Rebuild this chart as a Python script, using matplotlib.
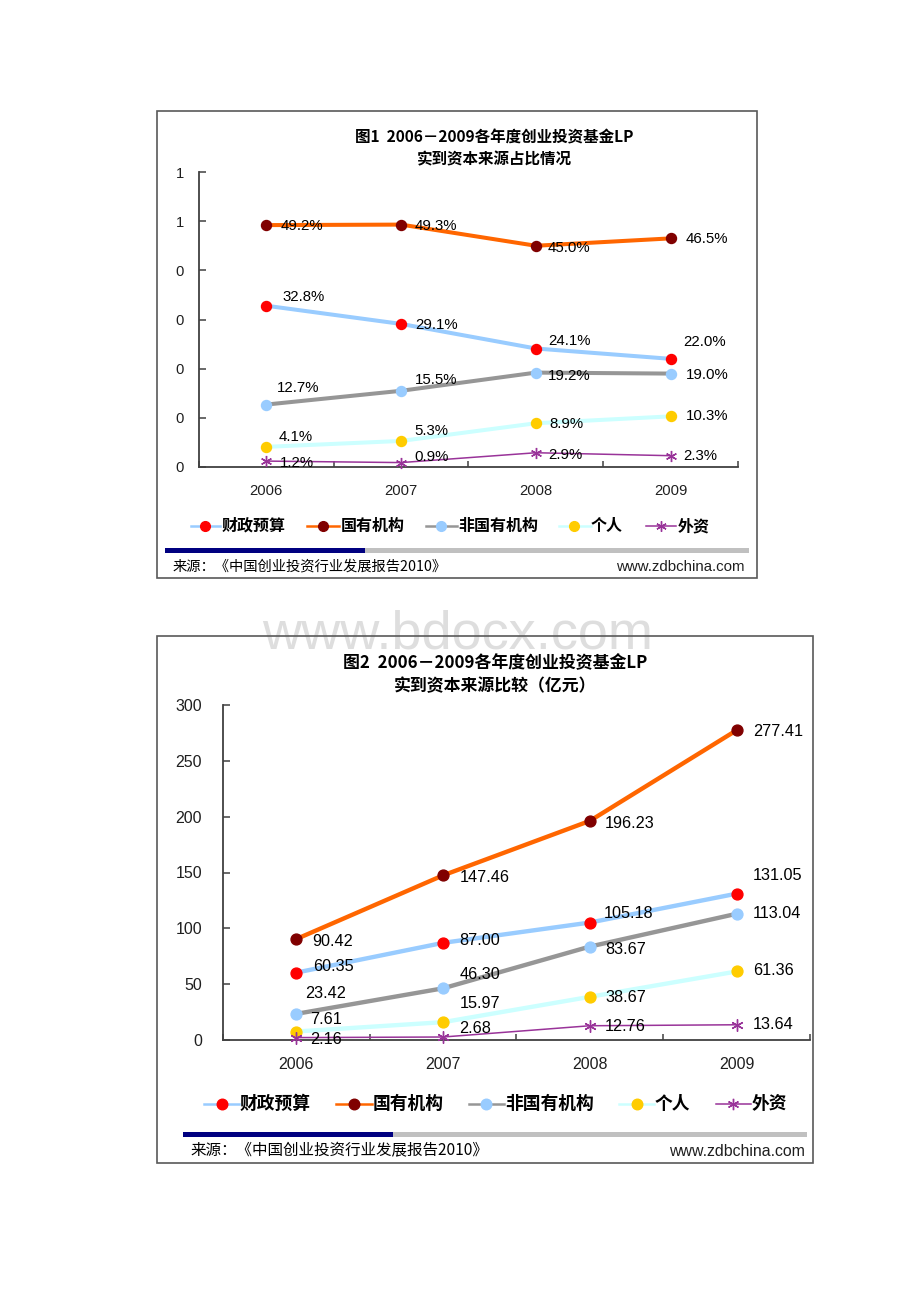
import numpy as np
import matplotlib
matplotlib.use('Agg')
import matplotlib.pyplot as plt
from matplotlib.lines import Line2D
from matplotlib.patches import Rectangle

# ---------------- data ----------------
years = ['2006', '2007', '2008', '2009']
series_names = ['财政预算', '国有机构', '非国有机构', '个人', '外资']

# Figure 1: share of paid-in capital (%)
share_fiscal = [32.8, 29.1, 24.1, 22.0]
share_state = [49.2, 49.3, 45.0, 46.5]
share_nonstate = [12.7, 15.5, 19.2, 19.0]
share_individual = [4.1, 5.3, 8.9, 10.3]
share_foreign = [1.2, 0.9, 2.9, 2.3]
share_ticks = [0.0, 0.1, 0.2, 0.3, 0.4, 0.5, 0.6]

# Figure 2: paid-in capital (100 million yuan)
amt_fiscal = [60.35, 87.00, 105.18, 131.05]
amt_state = [90.42, 147.46, 196.23, 277.41]
amt_nonstate = [23.42, 46.30, 83.67, 113.04]
amt_individual = [7.61, 15.97, 38.67, 61.36]
amt_foreign = [2.16, 2.68, 12.76, 13.64]
amt_ticks = [0, 50, 100, 150, 200, 250, 300]

title1 = ['图1  2006－2009各年度创业投资基金LP', '实到资本来源占比情况']
title2 = ['图2  2006－2009各年度创业投资基金LP', '实到资本来源比较（亿元）']
source_text = '来源：《中国创业投资行业发展报告2010》'
site_text = 'www.zdbchina.com'
watermark = 'www.bdocx.com'

# ---------------- styles / layout ----------------
W, H = 920, 1302
CJK = ['Noto Sans CJK SC', 'DejaVu Sans']
LAT = ['Liberation Sans', 'DejaVu Sans']

STYLES = [
    dict(line='#99CCFF', face='#FF0000', marker='o', thick=True),
    dict(line='#FF6600', face='#800000', marker='o', thick=True),
    dict(line='#969696', face='#99CCFF', marker='o', thick=True),
    dict(line='#CCFFFF', face='#FFCC00', marker='o', thick=True),
    dict(line='#993399', face='#993399', marker=(6, 2, 0), thick=False),
]

# label offsets (px right, px down) from each point
OFF1 = [
    [(16, -9), (14, 1), (12, -8), (13, -17)],
    [(14, 1), (14, 1), (12, 2), (15, 1)],
    [(11, -17), (14, -11), (12, 3), (15, 1)],
    [(12, -10), (13, -10), (14, 1), (15, 0)],
    [(14, 2), (13, -6), (12, 2), (13, 0)],
]
OFF2 = [
    [(15, -6), (15, -2), (13, -8), (15, -17)],
    [(15, 2), (15, 2), (14, 2), (15, 1)],
    [(8, -19), (15, -13), (14, 3), (15, 0)],
    [(13, -11), (15, -17), (14, 1), (15, -1)],
    [(13, 2), (15, -8), (14, 1), (15, 0)],
]

fig = plt.figure(figsize=(W / 100, H / 100), dpi=100)
fig.patch.set_facecolor('white')


def fx(x):
    return x / W


def fy(y):
    return 1 - y / H


def rect(l, t, r, b):
    return [l / W, 1 - b / H, (r - l) / W, (b - t) / H]


def round_half_up(v):
    return int(np.floor(v + 0.5 + 1e-9))


def draw_chart(cfg):
    s = cfg['scale']
    # frame box
    l, t, r, b = cfg['box']
    fig.add_artist(Rectangle((fx(l), fy(b)), (r - l) / W, (b - t) / H,
                             transform=fig.transFigure, fill=False,
                             edgecolor='#595959', linewidth=1.2))
    # titles
    for txt, yy in zip(cfg['title'], cfg['title_y']):
        fig.text(fx(cfg['title_x']), fy(yy), txt, ha='center', va='center',
                 family=CJK, weight='bold', fontsize=11.2 * s, color='#000000')

    ax = fig.add_axes(rect(*cfg['axes']))
    ax.set_facecolor('none')
    x = np.arange(len(years))
    for i, vals in enumerate(cfg['series']):
        st = STYLES[i]
        v = np.array(vals, dtype=float) * cfg['factor']
        lw = (2.9 * s) if st['thick'] else 1.1
        ms = (7.2 * s) if st['marker'] == 'o' else 8 * s
        ax.plot(x, v, color=st['line'], lw=lw, solid_capstyle='butt',
                marker=st['marker'], markersize=ms,
                markerfacecolor=st['face'], markeredgecolor=st['face'],
                markeredgewidth=1.0, clip_on=False, zorder=3 + i * 0.1)
        for j in range(len(years)):
            dx, dy = cfg['offsets'][i][j]
            ax.annotate(cfg['fmt'](vals[j]), (x[j], v[j]),
                        xytext=(dx * s, -dy * s), textcoords='offset pixels',
                        ha='left', va='center', family=LAT,
                        fontsize=10.8 * s, color='#000000', zorder=10,
                        annotation_clip=False)

    ax.set_xlim(-0.5, len(years) - 0.5)
    ax.set_ylim(cfg['ticks'][0], cfg['ticks'][-1])
    for sp in ['top', 'right']:
        ax.spines[sp].set_visible(False)
    for sp in ['left', 'bottom']:
        ax.spines[sp].set_color('#404040')
        ax.spines[sp].set_linewidth(1.3)
    ax.set_xticks(x)
    ax.set_xticklabels(years, family=LAT, fontsize=10.6 * s, color='#1F1F1F')
    ax.set_xticks(np.arange(-0.5, len(years)), minor=True)
    ax.tick_params(axis='x', which='major', length=0, pad=cfg['xpad'])
    ax.tick_params(axis='x', which='minor', length=4, width=1.1,
                   direction='in', color='#404040')
    ax.set_yticks(cfg['ticks'])
    ax.set_yticklabels(cfg['ytl'], family=LAT, fontsize=10.6 * s, color='#1F1F1F')
    ax.tick_params(axis='y', length=5, width=1.1, direction='in',
                   color='#404040', pad=cfg['ypad'])

    # legend (manual)
    ly = fy(cfg['leg_y'])
    for i, name in enumerate(series_names):
        st = STYLES[i]
        x0, x1, xm, xt = cfg['legend'][i]
        fig.add_artist(Line2D([fx(x0), fx(x1)], [ly, ly], transform=fig.transFigure,
                              color=st['line'], lw=1.8 if st['thick'] else 1.1))
        fig.add_artist(Line2D([fx(xm)], [ly], transform=fig.transFigure,
                              marker=st['marker'],
                              markersize=(7.0 * s) if st['marker'] == 'o' else 7.5 * s,
                              markerfacecolor=st['face'], markeredgecolor=st['face'],
                              markeredgewidth=1.0, linestyle='none'))
        fig.text(fx(xt), ly, name, ha='left', va='center', family=CJK,
                 weight='bold', fontsize=cfg['leg_fs'], color='#000000')

    # bottom bar
    bl, bm, br, byy, bh = cfg['bar']
    fig.add_artist(Rectangle((fx(bl), fy(byy + bh / 2)), (bm - bl) / W, bh / H,
                             transform=fig.transFigure, color='#000080', lw=0))
    fig.add_artist(Rectangle((fx(bm), fy(byy + bh / 2)), (br - bm) / W, bh / H,
                             transform=fig.transFigure, color='#C0C0C0', lw=0))
    # source line
    sx, sr, sy = cfg['src']
    fig.text(fx(sx), fy(sy), source_text, ha='left', va='center', family=CJK,
             fontsize=cfg['src_fs'], color='#000000')
    fig.text(fx(sr), fy(sy), site_text, ha='right', va='center', family=LAT,
             fontsize=cfg['site_fs'], color='#1F1F1F')
    return ax


chart1 = dict(
    scale=1.0, box=(157, 111, 757, 578), title=title1, title_x=494,
    title_y=(137, 159), axes=(199, 172, 738, 467),
    series=[share_fiscal, share_state, share_nonstate, share_individual, share_foreign],
    factor=0.01, fmt=lambda v: f'{v:.1f}%', offsets=OFF1, ticks=share_ticks,
    ytl=[str(round_half_up(v)) for v in share_ticks], xpad=12, ypad=11,
    leg_y=526, leg_fs=11.5,
    legend=[(191, 220, 205, 222), (307, 339, 323, 341), (426, 457, 441, 458),
            (559, 591, 574, 591), (646, 676, 661, 678)],
    bar=(165, 365, 749, 550, 5), src=(173, 745, 567), src_fs=10.3, site_fs=10.8,
)

chart2 = dict(
    scale=1.087, box=(157, 636, 813, 1163), title=title2, title_x=495,
    title_y=(663, 686), axes=(223, 705, 810, 1040),
    series=[amt_fiscal, amt_state, amt_nonstate, amt_individual, amt_foreign],
    factor=1.0, fmt=lambda v: f'{v:.2f}', offsets=OFF2, ticks=amt_ticks,
    ytl=[str(v) for v in amt_ticks], xpad=12.5, ypad=15,
    leg_y=1104, leg_fs=12.8,
    legend=[(204, 239, 222, 240), (336, 372, 354, 373), (469, 504, 486, 505),
            (619, 654, 637, 655), (716, 751, 733, 752)],
    bar=(183, 393, 807, 1134, 5), src=(190, 805, 1151), src_fs=11.2, site_fs=11.4,
)

draw_chart(chart1)
draw_chart(chart2)

# watermark (letters without descenders; baseline just above the title)
fig.text(fx(458), fy(648), watermark, ha='center', va='baseline', family=LAT,
         fontsize=39, color='#DEDEDE', zorder=0)

fig.savefig('out.png', dpi=100, facecolor='white')
